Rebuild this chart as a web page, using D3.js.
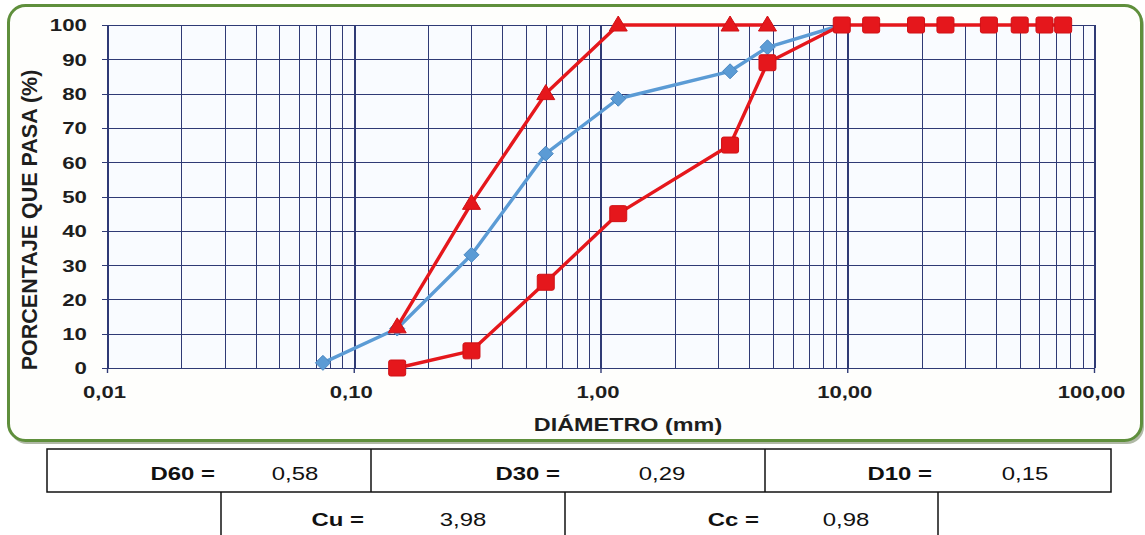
<!DOCTYPE html>
<html>
<head>
<meta charset="utf-8">
<script src="https://cdn.jsdelivr.net/npm/d3@7"></script>
<style>
  html, body { margin: 0; padding: 0; background: #ffffff; }
  svg { display: block; font-family: "Liberation Sans", Arial, sans-serif; }
</style>
</head>
<body>
<svg id="chart" width="1145" height="535"></svg>
<script>
// ---------- DATA ----------
const diamMuestra = [0.075, 0.15, 0.3, 0.6, 1.18, 3.35, 4.75, 9.5];
const pasaMuestra = [1.5, 11.5, 33, 62.5, 78.5, 86.5, 93.5, 100];

const diamSuperior = [0.15, 0.3, 0.6, 1.18, 3.35, 4.75];
const pasaSuperior = [12, 48, 80, 100, 100, 100];

const diamInferior = [0.15, 0.3, 0.6, 1.18, 3.35, 4.75, 9.5, 12.5, 19, 25, 37.5, 50, 63, 75];
const pasaInferior = [0, 5, 25, 45, 65, 89, 100, 100, 100, 100, 100, 100, 100, 100];

const xTickValues = [0.01, 0.1, 1, 10, 100];
const xTickLabels = ["0,01", "0,10", "1,00", "10,00", "100,00"];
const yTickValues = [0, 10, 20, 30, 40, 50, 60, 70, 80, 90, 100];

const xTitle = "DIÁMETRO (mm)";
const yTitle = "PORCENTAJE QUE PASA (%)";

const tableLabelsRow1 = ["D60 =", "D30 =", "D10 ="];
const tableValuesRow1 = ["0,58", "0,29", "0,15"];
const tableLabelsRow2 = ["Cu =", "Cc ="];
const tableValuesRow2 = ["3,98", "0,98"];

// ---------- LAYOUT ----------
const svg = d3.select("#chart");
const plot = { left: 107, right: 1094, top: 25, bottom: 368 };
const x = d3.scaleLog().domain([0.01, 100]).range([plot.left, plot.right]);
const y = d3.scaleLinear().domain([0, 100]).range([plot.bottom, plot.top]);

const gridColor = "#2f3a75";
const red = "#e5171c";
const blue = "#5b9bd5";
const textColor = "#1e1e1e";

// chart frame with shadow
svg.append("rect").attr("x", 10).attr("y", 8).attr("width", 1134).attr("height", 436)
  .attr("rx", 17).attr("fill", "#6f7f5c").attr("opacity", 0.55);
svg.append("rect").attr("x", 8.5).attr("y", 5.5).attr("width", 1133).attr("height", 435)
  .attr("rx", 17).attr("fill", "#fefefc").attr("stroke", "#5f8f3c").attr("stroke-width", 3);

// plot background
svg.append("rect").attr("x", plot.left).attr("y", plot.top)
  .attr("width", plot.right - plot.left).attr("height", plot.bottom - plot.top)
  .attr("fill", "#f9fbff");

// vertical grid (log)
const minorVals = [];
for (let e = -2; e < 2; e++) {
  for (let m = 1; m <= 9; m++) minorVals.push(m * Math.pow(10, e));
}
minorVals.push(100);
const isDecade = d => Math.abs(Math.log10(d) - Math.round(Math.log10(d))) < 1e-9;
svg.append("g").attr("shape-rendering", "crispEdges").selectAll("line").data(minorVals).join("line")
  .attr("x1", d => Math.round(x(d)) + 0.5).attr("x2", d => Math.round(x(d)) + 0.5)
  .attr("y1", y(100)).attr("y2", y(0))
  .attr("stroke", gridColor)
  .attr("stroke-width", d => (isDecade(d) ? 2 : 1));

// horizontal grid
svg.append("g").attr("shape-rendering", "crispEdges").selectAll("line").data(yTickValues).join("line")
  .attr("x1", plot.left - 5).attr("x2", plot.right)
  .attr("y1", d => Math.round(y(d)) + 0.5).attr("y2", d => Math.round(y(d)) + 0.5)
  .attr("stroke", gridColor).attr("stroke-width", 1);

// x axis (ticks + labels)
const xAxis = d3.axisBottom(x).tickValues(xTickValues).tickSize(5)
  .tickFormat((d, i) => xTickLabels[i]);
const gx = svg.append("g").attr("transform", `translate(0,${plot.bottom})`).call(xAxis);
gx.select(".domain").remove();
gx.selectAll(".tick line").attr("stroke", gridColor).attr("stroke-width", 1.4);
gx.selectAll(".tick text")
  .attr("y", 30).attr("dy", 0).attr("x", -3 / 1.38)
  .attr("fill", textColor).attr("font-size", 16).attr("font-weight", "bold")
  .attr("font-family", "Liberation Sans, Arial, sans-serif")
  .attr("transform", "scale(1.38,1)");

// y axis labels
const yAxis = d3.axisLeft(y).tickValues(yTickValues).tickSize(0).tickFormat(d3.format("d"));
const gy = svg.append("g").attr("transform", `translate(${plot.left},0)`).call(yAxis);
gy.select(".domain").remove();
gy.selectAll(".tick text")
  .attr("x", -20 / 1.35).attr("dy", "0.36em")
  .attr("fill", textColor).attr("font-size", 16.5).attr("font-weight", "bold")
  .attr("font-family", "Liberation Sans, Arial, sans-serif")
  .attr("transform", "scale(1.35,1)");

// axis titles
svg.append("text")
  .attr("transform", `translate(628,431) scale(1.3,1)`)
  .attr("text-anchor", "middle").attr("font-size", 18).attr("font-weight", "bold")
  .attr("fill", textColor).text(xTitle);
svg.append("text")
  .attr("transform", `translate(37,220) rotate(-90)`)
  .attr("text-anchor", "middle").attr("font-size", 21.5).attr("font-weight", "bold")
  .attr("fill", textColor).text(yTitle);

// ---------- SERIES ----------
const line = d3.line().x(d => x(d[0])).y(d => y(d[1]));
const muestra = diamMuestra.map((d, i) => [d, pasaMuestra[i]]);
const superior = diamSuperior.map((d, i) => [d, pasaSuperior[i]]);
const inferior = diamInferior.map((d, i) => [d, pasaInferior[i]]);

// blue sample curve
svg.append("path").datum(muestra).attr("d", line)
  .attr("fill", "none").attr("stroke", blue).attr("stroke-width", 3.4).attr("stroke-linejoin", "round");
svg.append("g").selectAll("path").data(muestra).join("path")
  .attr("transform", d => `translate(${x(d[0])},${y(d[1])})`)
  .attr("d", "M0,-7.5L7.5,0L0,7.5L-7.5,0Z")
  .attr("fill", blue).attr("stroke", "#4a86c0").attr("stroke-width", 1);

// red upper limit (triangles)
svg.append("path").datum(superior).attr("d", line)
  .attr("fill", "none").attr("stroke", red).attr("stroke-width", 3.4).attr("stroke-linejoin", "round");
svg.append("g").selectAll("path").data(superior).join("path")
  .attr("transform", d => `translate(${x(d[0])},${y(d[1])})`)
  .attr("d", "M0,-9L9,6L-9,6Z")
  .attr("fill", red).attr("stroke", "#d01015").attr("stroke-width", 1).attr("stroke-linejoin", "round");

// red lower limit (squares)
svg.append("path").datum(inferior).attr("d", line)
  .attr("fill", "none").attr("stroke", red).attr("stroke-width", 3.4).attr("stroke-linejoin", "round");
svg.append("g").selectAll("rect").data(inferior).join("rect")
  .attr("x", d => x(d[0]) - 8.5).attr("y", d => y(d[1]) - 8)
  .attr("width", 17).attr("height", 16).attr("rx", 2)
  .attr("fill", red).attr("stroke", "#d01015").attr("stroke-width", 1);

// ---------- TABLE ----------
const tbl = svg.append("g").attr("stroke", "#111").attr("stroke-width", 1.5).attr("fill", "none");
const r1 = { x0: 47, x1: 1111, y0: 449, y1: 492 };
tbl.append("rect").attr("x", r1.x0).attr("y", r1.y0).attr("width", r1.x1 - r1.x0).attr("height", r1.y1 - r1.y0);
[371, 765].forEach(v => tbl.append("line").attr("x1", v).attr("x2", v).attr("y1", r1.y0).attr("y2", r1.y1));
[221, 565, 938].forEach(v => tbl.append("line").attr("x1", v).attr("x2", v).attr("y1", r1.y1).attr("y2", 535));

const sx = 1.33;
function cellText(txt, xPos, yPos, anchor, bold) {
  svg.append("text")
    .attr("transform", `translate(${xPos},${yPos}) scale(${sx},1)`)
    .attr("text-anchor", anchor).attr("font-size", 18)
    .attr("font-weight", bold ? "bold" : "normal")
    .attr("fill", "#111").text(txt);
}
const row1LabelRight = [215, 560, 932];
const row1ValueCenter = [295, 662, 1025];
tableLabelsRow1.forEach((t, i) => cellText(t, row1LabelRight[i], 480, "end", true));
tableValuesRow1.forEach((t, i) => cellText(t, row1ValueCenter[i], 480, "middle", false));
const row2LabelRight = [364, 759];
const row2ValueCenter = [463, 846];
tableLabelsRow2.forEach((t, i) => cellText(t, row2LabelRight[i], 526, "end", true));
tableValuesRow2.forEach((t, i) => cellText(t, row2ValueCenter[i], 526, "middle", false));
</script>
</body>
</html>
